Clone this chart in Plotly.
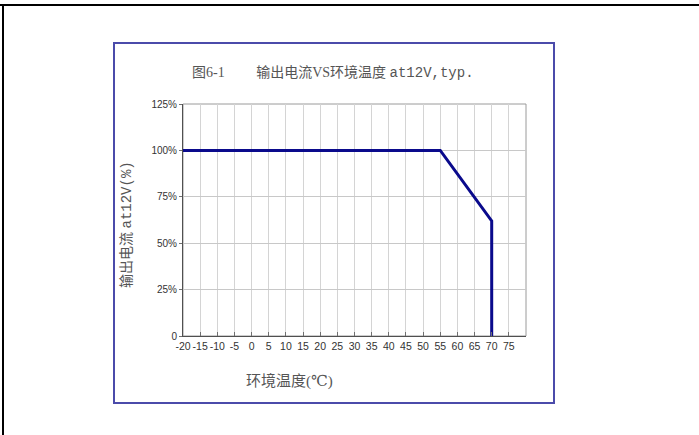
import plotly.graph_objects as go

W, H = 699, 435

# Data
temps = [-20, 55, 70, 70]
current_pct = [100, 100, 62, 0]
x_tickvals = list(range(-20, 80, 5))
x_ticktext = [str(v) for v in x_tickvals]
y_tickvals = [0, 25, 50, 75, 100, 125]
y_ticktext = ["0", "25%", "50%", "75%", "100%", "125%"]

MONO = "font-family:'Liberation Mono','DejaVu Sans Mono',monospace"
title_text = ("图6-1" + "&nbsp;" * 9 + "输出电流VS环境温度 "
              f"<span style=\"{MONO}\">at12V,typ.</span>")
y_title = f"输出电流 <span style=\"{MONO}\">at12V(%)</span>"
x_title = "环境温度(℃)"

def px(x):
    return x / W

def py(y):
    return 1 - y / H

fig = go.Figure()
fig.add_trace(go.Scatter(
    x=temps, y=current_pct, mode="lines",
    line=dict(color="#0a0a8c", width=3),
    hoverinfo="skip", showlegend=False,
))

serif = "Liberation Serif, DejaVu Serif, Noto Sans CJK SC"

fig.update_layout(
    template="none",
    width=W, height=H, autosize=False,
    margin=dict(l=0, r=0, t=0, b=0, pad=0, autoexpand=False),
    paper_bgcolor="white", plot_bgcolor="white",
    showlegend=False,
    xaxis=dict(
        domain=[px(183), px(526)], range=[-20, 80], automargin=False,
        tickvals=x_tickvals, ticktext=x_ticktext, tickangle=0,
        showgrid=True, gridcolor="#d4d4d4", gridwidth=1,
        showline=True, linecolor="#505050", linewidth=1,
        ticks="inside", ticklen=4, tickcolor="#707070",
        tickfont=dict(family="Liberation Sans, Arial", size=10.5, color="#333333"),
        zeroline=False, fixedrange=True,
    ),
    yaxis=dict(
        domain=[py(336), py(104)], range=[0, 125], automargin=False,
        tickvals=y_tickvals, ticktext=y_ticktext,
        showgrid=True, gridcolor="#c8c8c8", gridwidth=1,
        showline=True, linecolor="#505050", linewidth=1,
        ticks="outside", ticklen=3, tickcolor="#707070",
        tickfont=dict(family="Liberation Sans, Arial", size=10, color="#333333"),
        zeroline=False, fixedrange=True,
    ),
    shapes=[
        dict(type="rect", xref="x domain", yref="y domain", x0=0, x1=1, y0=0, y1=1,
             line=dict(color="#9a9a9a", width=1), layer="below"),
        dict(type="rect", xref="paper", yref="paper",
             x0=px(114), x1=px(554), y0=py(403), y1=py(43),
             line=dict(color="#4b4baa", width=2)),
        dict(type="line", xref="paper", yref="paper",
             x0=0, x1=1, y0=py(5), y1=py(5),
             line=dict(color="black", width=2)),
        dict(type="line", xref="paper", yref="paper",
             x0=px(3), x1=px(3), y0=py(5), y1=0,
             line=dict(color="black", width=2)),
    ],
    annotations=[
        dict(text=title_text, xref="paper", yref="paper",
             x=px(333), y=py(73), xanchor="center", yanchor="middle", showarrow=False,
             font=dict(family=serif, size=14, color="#555555")),
        dict(text=y_title, xref="paper", yref="paper",
             x=px(127), y=py(224), xanchor="center", yanchor="middle",
             showarrow=False, textangle=-90,
             font=dict(family=serif, size=14, color="#555555")),
        dict(text=x_title, xref="paper", yref="paper",
             x=px(289), y=py(381), xanchor="center", yanchor="middle", showarrow=False,
             font=dict(family=serif, size=15, color="#555555")),
    ],
)

fig.write_html(
    "out.html",
    config={"displayModeBar": False, "staticPlot": True},
    post_script="document.body.style.margin='0';document.body.style.overflow='hidden';",
)
